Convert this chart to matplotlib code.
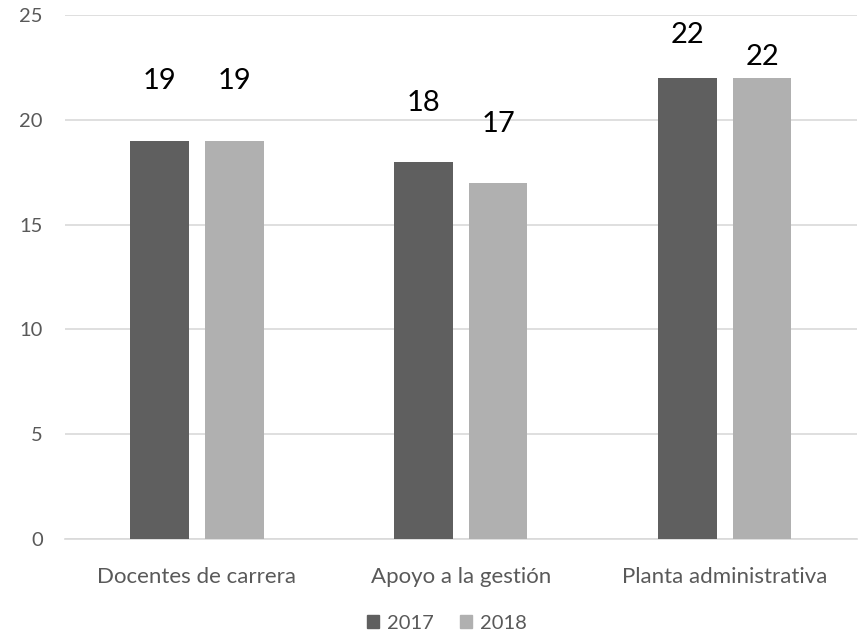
import matplotlib
matplotlib.use("Agg")
import matplotlib.pyplot as plt
import numpy as np
from matplotlib.patches import Patch

categories = ["Docentes de carrera", "Apoyo a la gestión", "Planta administrativa"]
series_names = ["2017", "2018"]
values_2017 = [19, 18, 22]
values_2018 = [19, 17, 22]
yticks = [0, 5, 10, 15, 20, 25]

# label offsets above the bar tops (points), mimicking the reference placement
offs_2017 = [43, 42, 31]
offs_2018 = [43, 42, 15]

colors = ["#5f5f5f", "#b0b0b0"]
plt.rcParams['font.family'] = ['Lato', 'DejaVu Sans']

fig = plt.figure(figsize=(8.63, 6.34), dpi=100)
ax = fig.add_axes([0.0753, 0.1498, 0.9177, 0.8265])

x = np.arange(len(categories))
w = 0.22
off = 0.142
b1 = ax.bar(x - off, values_2017, w, color=colors[0], zorder=3)
b2 = ax.bar(x + off, values_2018, w, color=colors[1], zorder=3)

for bars, vals, offs in ((b1, values_2017, offs_2017), (b2, values_2018, offs_2018)):
    for r, v, o in zip(bars, vals, offs):
        ax.annotate(str(v), (r.get_x() + r.get_width() / 2, v), xytext=(0, o),
                    textcoords="offset points", ha="center", va="center",
                    fontsize=21, color="black")

ax.set_xlim(-0.5, len(categories) - 0.5)
ax.set_ylim(0, 25)
ax.set_yticks(yticks)
ax.set_xticks(x)
ax.set_xticklabels(categories)
ax.yaxis.grid(True, color="#d9d9d9", linewidth=1.2, zorder=0)
for s in ax.spines.values():
    s.set_visible(False)
ax.spines['bottom'].set_visible(True)
ax.spines['bottom'].set_color("#d9d9d9")
ax.spines['bottom'].set_linewidth(1.2)
ax.tick_params(axis='both', length=0, colors="#595959")
ax.tick_params(axis='x', pad=20, labelsize=16)
ax.tick_params(axis='y', pad=16, labelsize=14.5)

handles = [Patch(color=c, label=n) for c, n in zip(colors, series_names)]
fig.legend(handles=handles, loc="center", bbox_to_anchor=(0.518, 0.017), ncol=2,
           frameon=False, fontsize=14.5, handlelength=0.6, handleheight=0.6,
           handletextpad=0.4, columnspacing=1.3, labelcolor="#595959")

fig.savefig("out.png", dpi=100)
